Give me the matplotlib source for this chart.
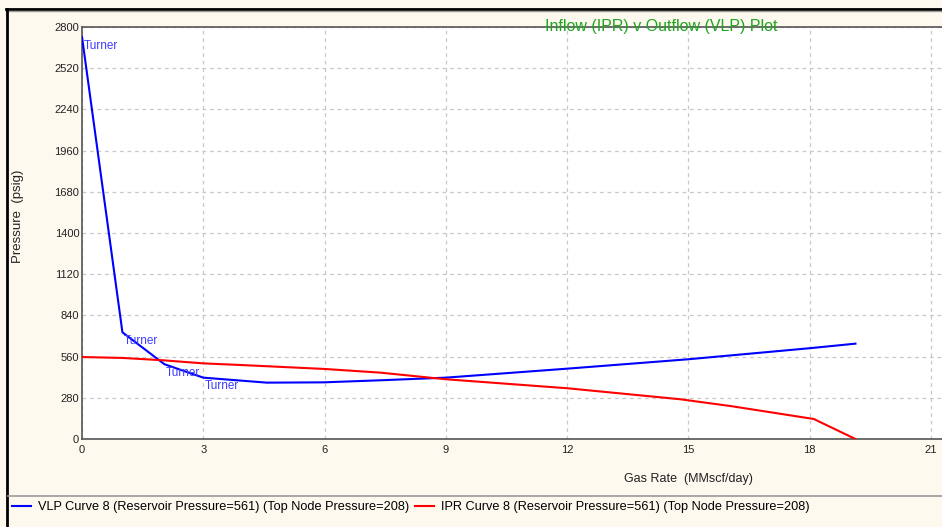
import matplotlib
matplotlib.use("Agg")
import matplotlib.pyplot as plt
from matplotlib.lines import Line2D

plt.rcParams['font.family'] = ['Liberation Sans', 'DejaVu Sans']

# VLP curve (blue)
vlp_rate = [0.0, 1.0, 2.04, 3.0, 4.57, 5.97, 7.38, 9.0, 12.0, 15.0, 18.0, 19.13]
vlp_pres = [2733, 725, 508, 417, 383, 385, 399, 417, 478, 542, 617, 648]

# IPR curve (red)
ipr_rate = [0.0, 1.0, 2.0, 3.0, 4.0, 5.0, 6.0, 7.38, 9.0, 12.0, 14.8, 16.04, 18.1, 19.13]
ipr_pres = [557, 551, 535, 514, 502, 489, 476, 451, 406, 345, 270, 224, 136, 0]

# Turner points on VLP
turner_rate = [0.0, 1.0, 2.04, 3.0]
turner_pres = [2733, 725, 508, 417]

xticks = [0, 3, 6, 9, 12, 15, 18, 21]
yticks = [0, 280, 560, 840, 1120, 1400, 1680, 1960, 2240, 2520, 2800]

W, H = 942, 527
bg = '#FDF9EF'
fig = plt.figure(figsize=(W / 100, H / 100), dpi=100, facecolor=bg)

ax = fig.add_axes([82 / W, (H - 439) / H, (W - 82) / W, (439 - 27) / H])
ax.set_facecolor('white')
ax.plot(vlp_rate, vlp_pres, color='#0000FF', lw=1.5, zorder=3)
ax.plot(ipr_rate, ipr_pres, color='#FF0000', lw=1.5, zorder=3)
for r, p in zip(turner_rate, turner_pres):
    ax.annotate('Turner', (r, p), xytext=(1, -2), textcoords='offset points',
                ha='left', va='top', fontsize=8.5, color='#3C3CFF', zorder=4)

ax.set_xlim(0, (W - 82) / 40.43)
ax.set_ylim(0, 2800)
ax.set_xticks(xticks)
ax.set_yticks(yticks)
ax.tick_params(labelsize=8, length=0, colors='#222222')
ax.tick_params(axis='y', pad=2)
ax.tick_params(axis='x', pad=4)
ax.grid(True, color='#C8C8C8', ls=(0, (3, 3)), lw=0.9)
for s in ['left', 'bottom', 'top']:
    ax.spines[s].set_color('#555555')
    ax.spines[s].set_linewidth(1.2)
ax.spines['right'].set_visible(False)

fig.text(661 / W, 1 - 26 / H, 'Inflow (IPR) v Outflow (VLP) Plot', color='#1FA51F',
         fontsize=11.5, ha='center', va='center')
fig.text(18 / W, 1 - 216 / H, 'Pressure  (psig)', rotation=90, fontsize=9.5,
         ha='center', va='center', color='#222222')
fig.text(688 / W, 1 - 479 / H, 'Gas Rate  (MMscf/day)', fontsize=9,
         ha='center', va='center', color='#222222')

# frame lines
fig.add_artist(Line2D([6 / W, 1], [1 - 9 / H, 1 - 9 / H], color='black', lw=2))
fig.add_artist(Line2D([6 / W, 1], [1 - 11 / H, 1 - 11 / H], color='#999999', lw=1))
fig.add_artist(Line2D([7 / W, 7 / W], [0, 1 - 9 / H], color='black', lw=2))
fig.add_artist(Line2D([8 / W, 1], [1 - 496 / H, 1 - 496 / H], color='#999999', lw=1.2))

handles = [Line2D([], [], color='#0000FF', lw=1.5), Line2D([], [], color='#FF0000', lw=1.5)]
labels = ['VLP Curve 8 (Reservoir Pressure=561) (Top Node Pressure=208)',
          'IPR Curve 8 (Reservoir Pressure=561) (Top Node Pressure=208)']
fig.legend(handles, labels, loc='center left', bbox_to_anchor=(12 / W, 1 - 507 / H),
           ncol=2, frameon=False, fontsize=9.2, handlelength=1.5, handletextpad=0.5,
           columnspacing=0.5, borderaxespad=0, borderpad=0)

fig.savefig('out.png', dpi=100, facecolor=bg)
